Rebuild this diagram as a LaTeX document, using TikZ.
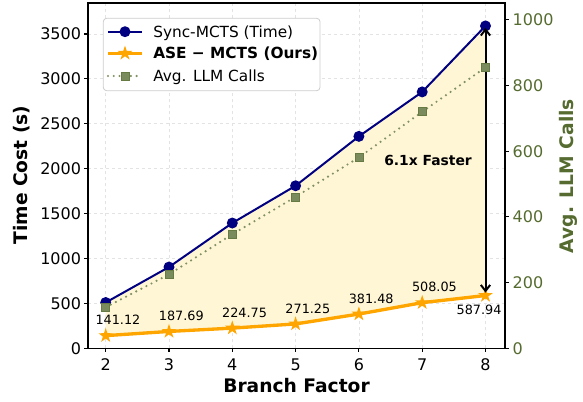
\documentclass[tikz,border=0pt]{standalone}
\usepackage{fontspec}
\setmainfont{DejaVu Sans}
\usetikzlibrary{shapes.geometric,arrows.meta}

\definecolor{syncblue}{RGB}{0,0,128}
\definecolor{aseorange}{RGB}{255,165,0}
\definecolor{llmgreen}{RGB}{85,107,47}
\definecolor{gapfill}{RGB}{255,246,214}

\tikzset{
  gridline/.style={gray!22,line width=0.6pt,dash pattern=on 2.5pt off 2pt},
  frameline/.style={black,line width=1pt},
  tickmark/.style={black,line width=0.8pt},
  ticklabel/.style={font=\fontsize{12}{14}\selectfont,inner sep=0pt},
  axislabel/.style={font=\fontsize{14}{16}\selectfont\bfseries,inner sep=0pt},
  vallabel/.style={font=\fontsize{9.6}{11}\selectfont,inner sep=0pt},
  syncline/.style={syncblue,line width=1.5pt},
  syncdot/.style={circle,fill=syncblue,inner sep=0pt,minimum size=8.25pt},
  aseline/.style={aseorange,line width=2.5pt,line join=round},
  asestar/.style={star,star points=5,star point ratio=2.6,fill=aseorange,
    inner sep=0pt,minimum size=11.5pt},
  llmline/.style={llmgreen!75,line width=1.8pt,line cap=round,
    dash pattern=on 0pt off 4.3pt},
  llmsq/.style={rectangle,fill=llmgreen!78,draw=llmgreen!90,line width=0.5pt,
    inner sep=0pt,minimum size=6pt},
  gaparrow/.style={black,line width=1.5pt,
    {Straight Barb[length=4.5pt,width=7pt]}-{Straight Barb[length=4.5pt,width=7pt]}},
  legendbox/.style={draw=gray!40,fill=white,line width=0.6pt,rounded corners=2.5pt},
  legendtext/.style={font=\fontsize{11.5}{13}\selectfont,inner sep=0pt,anchor=base west},
}

\begin{document}
\begin{tikzpicture}[x=0.75pt,y=0.75pt]
\useasboundingbox (0,0) rectangle (583,401);

% left axis: branch factor against time in seconds
\begin{scope}[shift={(-15.675pt,39.525pt)},x=47.475pt,y=0.06735pt]
  \foreach \b in {2,...,8}
    \draw[gridline] (\b,0) -- (\b,3845);
  \foreach \t in {500,1000,...,3500}
    \draw[gridline] (1.72,\t) -- (8.308,\t);

  \foreach \b/\t in {2/510,3/905,4/1395,5/1810,6/2360,7/2855,8/3590}
    \coordinate (s\b) at (\b,\t);
  \foreach \b/\t in {2/141.12,3/187.69,4/224.75,5/271.25,6/381.48,7/508.05,8/587.94}
    \coordinate (a\b) at (\b,\t);

  % speed-up region between the two curves
  \fill[gapfill] (s2) -- (s3) -- (s4) -- (s5) -- (s6) -- (s7) -- (s8)
    -- (a8) -- (a7) -- (a6) -- (a5) -- (a4) -- (a3) -- (a2) -- cycle;

  \draw[syncline] (s2) -- (s3) -- (s4) -- (s5) -- (s6) -- (s7) -- (s8);
  \foreach \b in {2,...,8}
    \node[syncdot] (sd\b) at (s\b) {};

  \draw[aseline] (a2) -- (a3) -- (a4) -- (a5) -- (a6) -- (a7) -- (a8);
  \foreach \b in {2,...,8}
    \node[asestar] (as\b) at (a\b) {};

  \foreach \b/\t in {2/141.12,3/187.69,4/224.75,5/271.25,6/381.48,7/508.05}
    \node[vallabel,xshift=9.2pt,yshift=11.7pt] (v\b) at (a\b) {\t};
  \node[vallabel,xshift=-4.8pt,yshift=-10.5pt] (v8) at (a8) {587.94};

  \draw[gaparrow,shorten <=2.2pt,shorten >=1.5pt] (a8) -- (s8);
\end{scope}

\node[font=\fontsize{10.4}{12}\selectfont\bfseries,inner sep=0pt] (speedup)
  at (428,241) {6.1x Faster};

% right axis: average number of LLM calls
\begin{scope}[shift={(-15.675pt,39.525pt)},x=47.475pt,y=0.24638pt]
  \foreach \b/\c in {2/125,3/225,4/347,5/461,6/581,7/720,8/855}
    \coordinate (l\b) at (\b,\c);
  \draw[llmline] (l2) -- (l3) -- (l4) -- (l5) -- (l6) -- (l7) -- (l8);
  \foreach \b in {2,...,8}
    \node[llmsq] (ls\b) at (l\b) {};

  \foreach \c in {0,200,...,1000}
    \draw[tickmark] (8.308,\c) -- ++(3pt,0)
      node[ticklabel,anchor=west,xshift=2.4pt,text=llmgreen] (rt\c) {\c};
\end{scope}

% frame and ticks of the time axis
\begin{scope}[shift={(-15.675pt,39.525pt)},x=47.475pt,y=0.06735pt]
  \draw[frameline] (1.72,0) rectangle (8.308,3845);
  \foreach \t in {0,500,...,3500}
    \draw[tickmark] (1.72,\t) -- ++(-3pt,0)
      node[ticklabel,anchor=east,xshift=-1.8pt] (lt\t) {\t};
  \foreach \b in {2,...,8}
    \draw[tickmark] (\b,0) -- ++(0,-3pt)
      node[ticklabel,anchor=north,yshift=-4.5pt] (bt\b) {\b};
\end{scope}

\node[axislabel,rotate=90] (ylab) at (21.7,226) {Time Cost (s)};
\node[axislabel,rotate=90,text=llmgreen] (y2lab) at (568,225) {Avg. LLM Calls};
\node[axislabel] (xlab) at (296.5,15) {Branch Factor};

% legend
\draw[legendbox] (103.3,310.3) rectangle (320,382.7);
\draw[syncline] (108,369.3) -- (142,369.3);
\node[syncdot] (lgsync) at (125,369.3) {};
\node[legendtext] (lgsynctxt) at (153,363.7) {Sync-MCTS (Time)};
\draw[aseline] (108,347.7) -- (142,347.7);
\node[asestar] (lgase) at (125,347.7) {};
\node[legendtext,font=\fontsize{11.5}{13}\selectfont\bfseries] (lgasetxt)
  at (153,342.1) {ASE − MCTS (Ours)};
\draw[llmline] (108,325) -- (142,325);
\node[llmsq] (lgllm) at (125,325) {};
\node[legendtext] (lgllmtxt) at (153,319.4) {Avg. LLM Calls};
\end{tikzpicture}
\end{document}
